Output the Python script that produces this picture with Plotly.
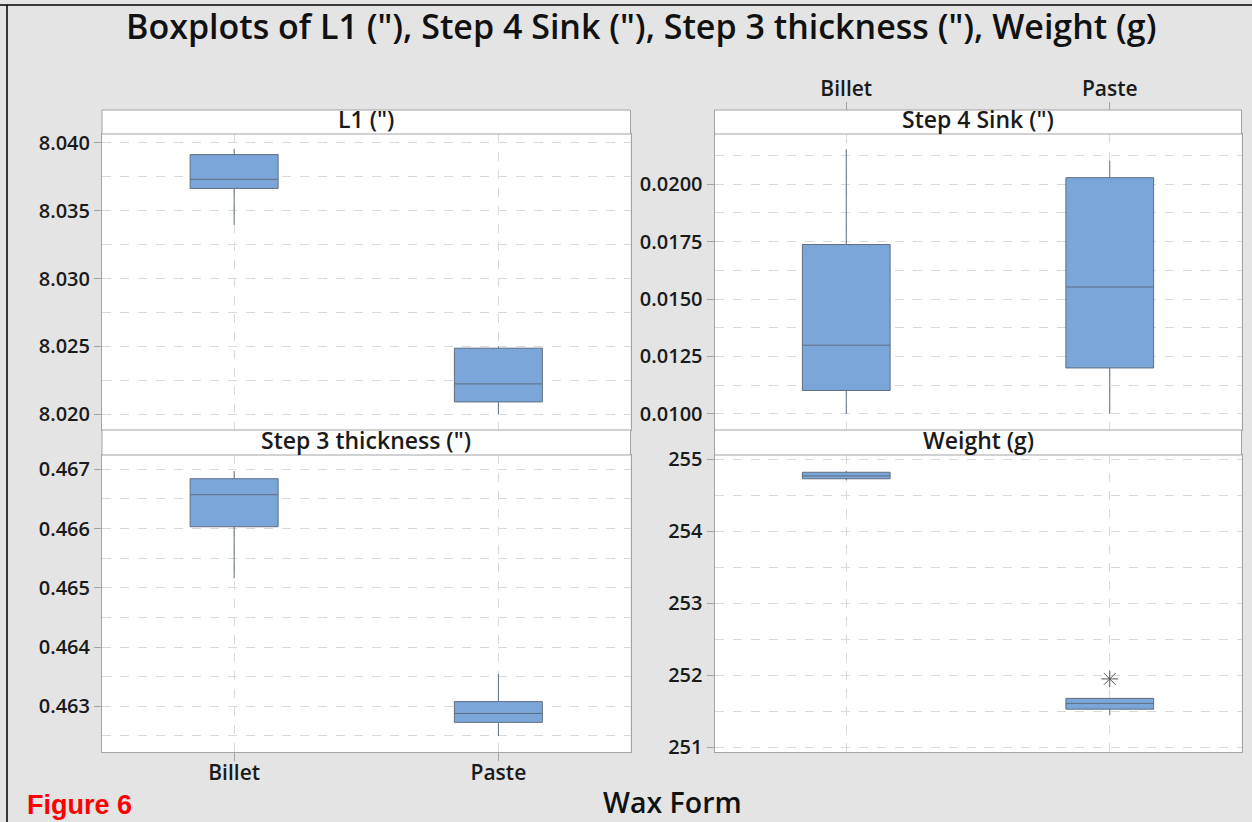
import plotly.graph_objects as go

# Wax form groups
forms = ["Billet", "Paste"]

# Five-number summaries per response (Billet, Paste)
l1_low = [8.03397, 8.02000]
l1_q1 = [8.03665, 8.02091]
l1_med = [8.03732, 8.02224]
l1_q3 = [8.03914, 8.02487]
l1_high = [8.03956, 8.02499]

sink_low = [0.01000, 0.01000]
sink_q1 = [0.01102, 0.01200]
sink_med = [0.01299, 0.01552]
sink_q3 = [0.01737, 0.02028]
sink_high = [0.02152, 0.02102]

thick_low = [0.46516, 0.46250]
thick_q1 = [0.46603, 0.46273]
thick_med = [0.46657, 0.46288]
thick_q3 = [0.46684, 0.46308]
thick_high = [0.46697, 0.46355]

wt_low = [254.71, 251.45]
wt_q1 = [254.73, 251.53]
wt_med = [254.77, 251.61]
wt_q3 = [254.82, 251.68]
wt_high = [254.84, 251.68]

# Outlier in the Paste weight group
wt_out_x = ["Paste"]
wt_out_y = [251.95]

panel_titles = ['L1 (")', 'Step 4 Sink (")', 'Step 3 thickness (")', 'Weight (g)']

W, H = 1252, 822
BG = "#e4e4e4"
FILL = "#7ba6d9"
EDGE = "#5f6e80"
GRID = "#d9d9d9"
FRAME = "#a3a3a3"
FONT = "Open Sans"


def fx(px):
    return px / W


def fy(py):
    return 1 - py / H


# Panel pixel boxes: (left, right, plot top, plot bottom, strip top)
panels = [
    (102, 630.5, 134, 430, 110),
    (714.5, 1241.5, 134, 430, 110),
    (102, 630.5, 455, 752, 430),
    (714.5, 1241.5, 455, 752, 430),
]

fig = go.Figure()

stats = [
    (l1_low, l1_q1, l1_med, l1_q3, l1_high),
    (sink_low, sink_q1, sink_med, sink_q3, sink_high),
    (thick_low, thick_q1, thick_med, thick_q3, thick_high),
    (wt_low, wt_q1, wt_med, wt_q3, wt_high),
]

for i, (lo, q1, med, q3, hi) in enumerate(stats):
    ax = "" if i == 0 else str(i + 1)
    fig.add_trace(go.Box(
        x=forms, lowerfence=lo, q1=q1, median=med, q3=q3, upperfence=hi,
        xaxis="x" + ax, yaxis="y" + ax,
        width=0.333, whiskerwidth=0,
        fillcolor=FILL, line=dict(color=EDGE, width=1),
        boxpoints=False, showlegend=False, hoverinfo="skip",
    ))

fig.add_trace(go.Scatter(
    x=wt_out_x, y=wt_out_y, xaxis="x4", yaxis="y4", mode="markers",
    marker=dict(symbol="asterisk-open", size=14, color="#555555",
                line=dict(color="#555555", width=1)),
    showlegend=False, hoverinfo="skip",
))

# Invisible trace carrying the top category axis above Step 4 Sink
fig.add_trace(go.Scatter(
    x=forms, y=[0.015, 0.015], xaxis="x5", yaxis="y2", mode="markers",
    marker=dict(opacity=0), showlegend=False, hoverinfo="skip",
))

tick_font = dict(family=FONT, size=20, color="#1a1a1a", weight=600)
xtick_font = dict(family=FONT, size=21, color="#1a1a1a", weight=600)

y_ranges = [
    [8.01884, 8.04066],
    [0.0093, 0.02218],
    [0.46223, 0.46724],
    [250.935, 255.06],
]
y_major = [0.005, 0.0025, 0.001, 1]
y_fmt = [".3f", ".4f", ".3f", "d"]
y_tick0 = [8.02, 0.01, 0.463, 251]

layout = dict(
    width=W, height=H,
    paper_bgcolor=BG, plot_bgcolor="white",
    margin=dict(l=0, r=0, t=0, b=0, autoexpand=False),
    showlegend=False,
)

for i, (l, r, t, b, st) in enumerate(panels):
    ax = "" if i == 0 else str(i + 1)
    layout["xaxis" + ax] = dict(
        domain=[fx(l), fx(r)], anchor="y" + ax,
        type="category", categoryorder="array", categoryarray=forms,
        range=[-0.5, 1.5],
        showgrid=True, gridcolor=GRID, griddash="dash", gridwidth=1,
        showline=True, mirror=True, linecolor=FRAME, linewidth=1,
        zeroline=False,
        showticklabels=(i == 2), ticks="outside" if i == 2 else "",
        ticklen=8, tickcolor=FRAME, tickfont=xtick_font,
        ticklabelstandoff=-6,
    )
    layout["yaxis" + ax] = dict(
        domain=[fy(b), fy(t)], anchor="x" + ax,
        range=y_ranges[i], tick0=y_tick0[i], dtick=y_major[i],
        tickformat=y_fmt[i],
        showgrid=True, gridcolor=GRID, griddash="dash", gridwidth=1,
        minor=dict(dtick=y_major[i] / 2, tick0=y_tick0[i], showgrid=True,
                   gridcolor=GRID, griddash="dash", gridwidth=1, ticks=""),
        showline=True, mirror=True, linecolor=FRAME, linewidth=1,
        zeroline=False, ticks="outside", ticklen=7, tickcolor=FRAME,
        tickfont=tick_font,
    )

layout["xaxis5"] = dict(
    overlaying="x2", anchor="free", position=fy(110), side="top",
    domain=[fx(714.5), fx(1241.5)],
    type="category", categoryorder="array", categoryarray=forms,
    range=[-0.5, 1.5], showgrid=False, showline=False, zeroline=False,
    ticks="outside", ticklen=8, tickcolor=FRAME, tickfont=xtick_font,
    ticklabelstandoff=-2,
)

shapes = []
annotations = []
for i, (l, r, t, b, st) in enumerate(panels):
    shapes.append(dict(
        type="rect", xref="paper", yref="paper",
        x0=fx(l), x1=fx(r), y0=fy(t), y1=fy(st),
        fillcolor="white", line=dict(color=FRAME, width=1), layer="above",
    ))
    annotations.append(dict(
        text=panel_titles[i], xref="paper", yref="paper",
        x=fx((l + r) / 2), y=fy((t + st) / 2), showarrow=False,
        xanchor="center", yanchor="middle", yshift=3,
        font=dict(family=FONT, size=23, color="#1a1a1a", weight=600),
    ))

# Outer frame edges
shapes.append(dict(type="line", xref="paper", yref="paper",
                   x0=0, x1=1, y0=fy(5), y1=fy(5),
                   line=dict(color="black", width=1.5)))
shapes.append(dict(type="line", xref="paper", yref="paper",
                   x0=fx(7), x1=fx(7), y0=fy(5), y1=0,
                   line=dict(color="black", width=1.5)))

annotations.append(dict(
    text='Boxplots of L1 ("), Step 4 Sink ("), Step 3 thickness ("), Weight (g)',
    xref="paper", yref="paper", x=fx(641), y=fy(26), showarrow=False,
    xanchor="center", yanchor="middle",
    font=dict(family=FONT, size=34, color="#111111", weight=600),
))
annotations.append(dict(
    text="Wax Form", xref="paper", yref="paper", x=fx(672), y=fy(802),
    showarrow=False, xanchor="center", yanchor="middle",
    font=dict(family=FONT, size=28.5, color="#111111", weight=600),
))
annotations.append(dict(
    text="Figure 6", xref="paper", yref="paper", x=fx(25), y=fy(805),
    showarrow=False, xanchor="left", yanchor="middle",
    font=dict(family="Liberation Sans", size=27, color="#ff0000", weight=700),
))

layout["shapes"] = shapes
layout["annotations"] = annotations
fig.update_layout(**layout)

fig.write_html("out.html")
